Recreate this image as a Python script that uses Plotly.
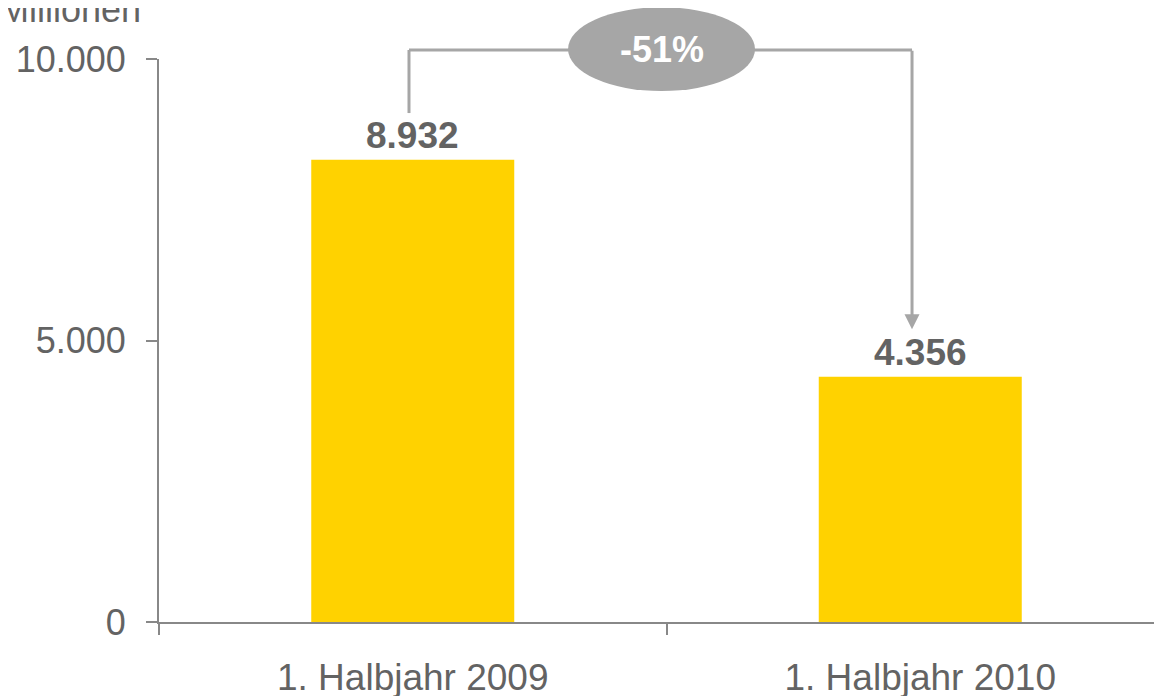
import plotly.graph_objects as go

# values (bar heights as drawn, labels as printed)
categories = ["1. Halbjahr 2009", "1. Halbjahr 2010"]
bar_values = [8210, 4356]
bar_labels = ["8.932", "4.356"]
change_label = "-51%"
unit_label = "Millionen"
y_ticks = [0, 5000, 10000]

FONT = "Liberation Sans, Arial, sans-serif"
TEXT = "#636363"
AXIS = "#888888"
BRACKET = "#a6a6a6"
BAR = "#ffd200"

fig = go.Figure(
    go.Bar(
        x=categories,
        y=bar_values,
        marker=dict(color=BAR, line=dict(width=0)),
        width=0.4,
        hoverinfo="skip",
    )
)

# value labels above the bars
for cat, val, lab in zip(categories, bar_values, bar_labels):
    fig.add_annotation(
        x=cat, y=val, text=f"<b>{lab}</b>", showarrow=False,
        yanchor="bottom", yshift=2,
        font=dict(family=FONT, size=37, color=TEXT),
    )

# bracket showing the change between the two bars
x_left, x_right, y_top = 0.2463, 0.7419, 1.016
fig.add_shape(type="line", xref="paper", yref="paper",
              x0=x_left, x1=x_left, y0=0.904, y1=y_top,
              line=dict(color=BRACKET, width=3))
fig.add_shape(type="line", xref="paper", yref="paper",
              x0=x_left, x1=x_right, y0=y_top, y1=y_top,
              line=dict(color=BRACKET, width=3))
fig.add_annotation(
    xref="paper", yref="paper", x=x_right, y=0.52, text="",
    showarrow=True, axref="pixel", ayref="pixel", ax=0, ay=-280,
    arrowhead=2, arrowsize=1, arrowwidth=3, arrowcolor=BRACKET, standoff=0,
)
fig.add_shape(type="circle", xref="paper", yref="paper",
              x0=0.4030, x1=0.5872, y0=0.943, y1=1.092,
              fillcolor=BRACKET, line=dict(width=0))
fig.add_annotation(
    xref="paper", yref="paper", x=0.4951, y=1.017, text=f"<b>{change_label}</b>",
    xanchor="center", yanchor="middle",
    showarrow=False, font=dict(family=FONT, size=36, color="white"),
)

# unit label, partly cut off at the top edge
fig.add_annotation(
    xref="paper", yref="paper", x=-0.1596, y=1.088, xanchor="left",
    yanchor="middle", text=unit_label, showarrow=False,
    font=dict(family=FONT, size=36, color=TEXT),
)

# the page body has an 8px margin; the plot runs past the right window edge
fig.update_layout(
    width=1166, height=696,
    margin=dict(l=151, r=0, t=51, b=82),
    plot_bgcolor="white", paper_bgcolor="white",
    separators=",.",
    showlegend=False,
    font=dict(family=FONT, size=36, color=TEXT),
    bargap=0.6,
)
fig.update_xaxes(
    range=[-0.5, 1.5],
    showline=True, linecolor=AXIS, linewidth=2,
    ticks="outside", tickson="boundaries", ticklen=11, tickwidth=2, tickcolor=AXIS,
    showgrid=False, zeroline=False,
    tickfont=dict(family=FONT, size=37, color=TEXT),
    ticklabelstandoff=22,
)
fig.update_yaxes(
    range=[0, 10000], tickvals=y_ticks, tickformat=",d",
    showline=True, linecolor=AXIS, linewidth=2,
    ticks="outside", ticklen=11, tickwidth=2, tickcolor=AXIS,
    showgrid=False, zeroline=False,
    tickfont=dict(family=FONT, size=36, color=TEXT),
    ticklabelstandoff=13,
)

fig.write_html("out.html")
